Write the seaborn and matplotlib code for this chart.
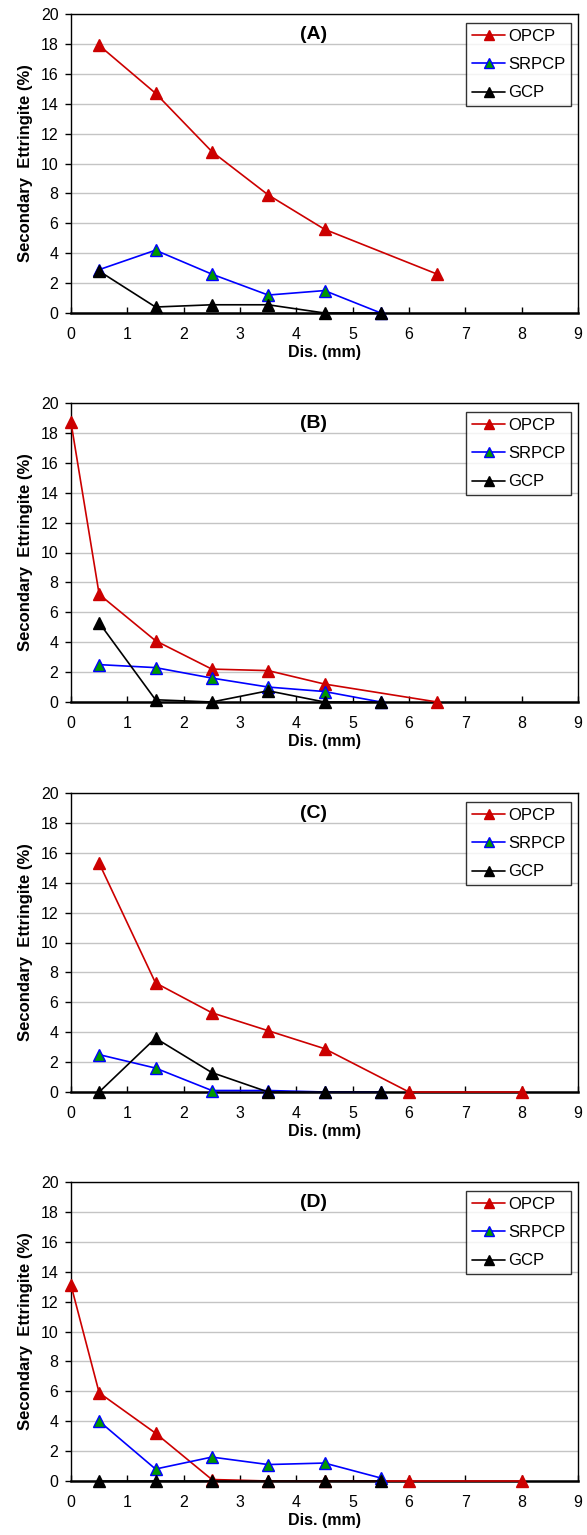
import matplotlib
matplotlib.use("Agg")
import matplotlib.pyplot as plt
import seaborn as sns
import pandas as pd

sns.set_theme(style="white")
plt.rcParams['font.family'] = ['Liberation Sans', 'DejaVu Sans']
plt.rcParams['text.color'] = 'black'
plt.rcParams['axes.labelcolor'] = 'black'
plt.rcParams['xtick.color'] = 'black'
plt.rcParams['ytick.color'] = 'black'

panels = ["(A)", "(B)", "(C)", "(D)"]
series_names = ["OPCP", "SRPCP", "GCP"]

# Panel A
a_opcp_x = [0.5, 1.5, 2.5, 3.5, 4.5, 6.5]
a_opcp_y = [17.9, 14.7, 10.8, 7.9, 5.6, 2.6]
a_srpcp_x = [0.5, 1.5, 2.5, 3.5, 4.5, 5.5]
a_srpcp_y = [2.9, 4.2, 2.6, 1.2, 1.5, 0.0]
a_gcp_x = [0.5, 1.5, 2.5, 3.5, 4.5, 5.5]
a_gcp_y = [2.8, 0.4, 0.55, 0.55, 0.0, 0.0]

# Panel B
b_opcp_x = [0.0, 0.5, 1.5, 2.5, 3.5, 4.5, 6.5]
b_opcp_y = [18.7, 7.2, 4.1, 2.2, 2.1, 1.2, 0.0]
b_srpcp_x = [0.5, 1.5, 2.5, 3.5, 4.5, 5.5]
b_srpcp_y = [2.5, 2.3, 1.6, 1.0, 0.7, 0.0]
b_gcp_x = [0.5, 1.5, 2.5, 3.5, 4.5, 5.5]
b_gcp_y = [5.3, 0.15, 0.0, 0.75, 0.0, 0.0]

# Panel C
c_opcp_x = [0.5, 1.5, 2.5, 3.5, 4.5, 6.0, 8.0]
c_opcp_y = [15.3, 7.3, 5.3, 4.1, 2.9, 0.0, 0.0]
c_srpcp_x = [0.5, 1.5, 2.5, 3.5, 4.5, 5.5]
c_srpcp_y = [2.5, 1.6, 0.1, 0.1, 0.0, 0.0]
c_gcp_x = [0.5, 1.5, 2.5, 3.5, 4.5, 5.5]
c_gcp_y = [0.0, 3.6, 1.3, 0.0, 0.0, 0.0]

# Panel D
d_opcp_x = [0.0, 0.5, 1.5, 2.5, 3.5, 4.5, 6.0, 8.0]
d_opcp_y = [13.1, 5.9, 3.2, 0.1, 0.0, 0.0, 0.0, 0.0]
d_srpcp_x = [0.5, 1.5, 2.5, 3.5, 4.5, 5.5]
d_srpcp_y = [4.0, 0.8, 1.6, 1.1, 1.2, 0.2]
d_gcp_x = [0.5, 1.5, 2.5, 3.5, 4.5, 5.5]
d_gcp_y = [0.0, 0.0, 0.0, 0.0, 0.0, 0.0]

panel_data = [
    [(a_opcp_x, a_opcp_y), (a_srpcp_x, a_srpcp_y), (a_gcp_x, a_gcp_y)],
    [(b_opcp_x, b_opcp_y), (b_srpcp_x, b_srpcp_y), (b_gcp_x, b_gcp_y)],
    [(c_opcp_x, c_opcp_y), (c_srpcp_x, c_srpcp_y), (c_gcp_x, c_gcp_y)],
    [(d_opcp_x, d_opcp_y), (d_srpcp_x, d_srpcp_y), (d_gcp_x, d_gcp_y)],
]

line_colors = {"OPCP": "#CC0000", "SRPCP": "#0000FF", "GCP": "#000000"}
face_colors = {"OPCP": "#CC0000", "SRPCP": "#009900", "GCP": "#000000"}
edge_colors = {"OPCP": "#CC0000", "SRPCP": "#0000FF", "GCP": "#000000"}

W, H = 587, 1535
fig = plt.figure(figsize=(W / 100, H / 100), dpi=100)

left_px, right_px = 71, 578
tops = [14, 403, 793, 1182]
ax_h = 299

for i, (label, pdata) in enumerate(zip(panels, panel_data)):
    top = tops[i]
    ax = fig.add_axes([left_px / W, 1 - (top + ax_h) / H, (right_px - left_px) / W, ax_h / H])
    ax.set_facecolor("white")
    for name, (xs, ys) in zip(series_names, pdata):
        df = pd.DataFrame({"x": xs, "y": ys})
        sns.lineplot(data=df, x="x", y="y", ax=ax, color=line_colors[name],
                     marker="^", markersize=9, markerfacecolor=face_colors[name],
                     markeredgecolor=edge_colors[name], markeredgewidth=1.0,
                     linewidth=1.2, label=name, clip_on=False, zorder=3, sort=False)
    ax.set_xlim(0, 9)
    ax.set_ylim(0, 20)
    ax.set_xticks(range(0, 10))
    ax.set_yticks(range(0, 21, 2))
    ax.yaxis.grid(True, color="#C4C4C4", linewidth=1.0)
    ax.xaxis.grid(False)
    ax.set_axisbelow(True)
    for s in ["top", "right", "left"]:
        ax.spines[s].set_visible(True)
        ax.spines[s].set_color("black")
        ax.spines[s].set_linewidth(1.0)
    ax.spines["bottom"].set_color("black")
    ax.spines["bottom"].set_linewidth(1.8)
    ax.tick_params(axis="y", direction="out", length=4, width=1, color="black",
                   labelsize=11.5, pad=5, left=True, labelcolor="black")
    ax.tick_params(axis="x", direction="in", length=4, width=1, color="black",
                   labelsize=11.5, pad=10, bottom=True, labelcolor="black")
    ax.set_xlabel("Dis. (mm)", fontsize=11.5, fontweight="bold", color="black")
    ax.xaxis.set_label_coords(0.5, -0.108)
    ax.set_ylabel("Secondary  Ettringite (%)", fontsize=12, fontweight="bold", color="black")
    ax.yaxis.set_label_coords(-0.075, 0.5)
    ax.text(0.479, 0.933, label, transform=ax.transAxes, ha="center", va="center",
            fontsize=14, fontweight="bold", color="black")
    leg = ax.legend(loc="upper right", bbox_to_anchor=(0.986, 0.97), borderaxespad=0,
                    frameon=True, fancybox=False, fontsize=12, handlelength=2.0,
                    handletextpad=0.15, labelspacing=0.8, borderpad=0.35, markerscale=0.8)
    for t in leg.get_texts():
        t.set_color("black")
    leg.get_frame().set_edgecolor("black")
    leg.get_frame().set_linewidth(1.0)

fig.savefig("out.png", dpi=100)
